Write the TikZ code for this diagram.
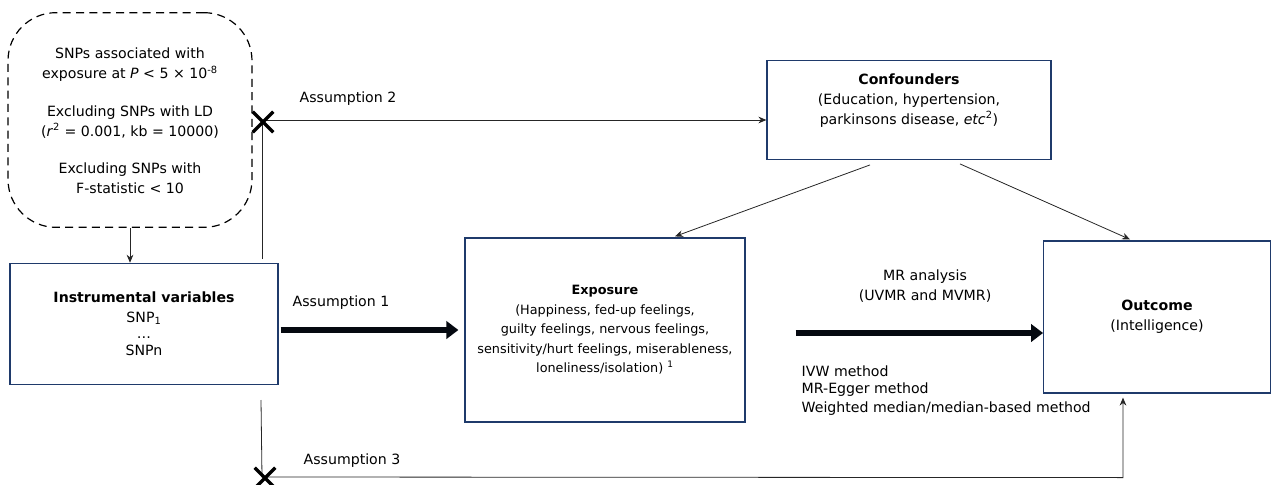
\documentclass[tikz,border=0pt]{standalone}
\usepackage{fontspec}
\setmainfont{DejaVu Sans}
\usetikzlibrary{arrows.meta,calc,shapes.misc}
\definecolor{boxblue}{HTML}{1F3A6B}

\begin{document}
\begin{tikzpicture}[x=.75pt,y=-.75pt,
    font=\fontsize{10.6}{15}\selectfont,
    box/.style={draw=boxblue,line width=.9pt,align=center,inner sep=0pt},
    link/.style={draw=black!85,line width=.6pt,-{Stealth[length=6pt,width=5pt]}},
    bigarrow/.style={draw=black!85!boxblue,line width=5pt,-{Triangle[length=9pt,width=13pt]}},
    xmark/.style={cross out,draw=black,line width=2.4pt,minimum size=13pt,inner sep=0pt}]
  \useasboundingbox (0,0) rectangle (1271,485);

  % boxes
  \node[box,draw=black,dashed,dash pattern=on 6pt off 4pt,rounded corners=36pt,
        minimum width=183pt,minimum height=161pt] (snps) at (130,120) {};
  \node[align=center] (snpstxt) at (130,121) {SNPs associated with\\
    exposure at \textit{P} < 5 × 10\textsuperscript{-8}\\[13pt]
    Excluding SNPs with LD\\
    (\textit{r}\textsuperscript{2} = 0.001, kb = 10000)\\[13pt]
    Excluding SNPs with\\
    F-statistic < 10};
  \node[box,minimum width=201pt,minimum height=91pt] (iv) at (144,324)
    {\textbf{Instrumental variables}\\SNP\textsubscript{1}\\[-3pt]…\\[-2pt]SNPn};
  \node[box,minimum width=210pt,minimum height=138pt,font=\fontsize{9.6}{14.6}\selectfont] (expo) at (605,330)
    {\textbf{Exposure}\\(Happiness, fed-up feelings,\\guilty feelings, nervous feelings,\\
     sensitivity/hurt feelings, miserableness,\\loneliness/isolation) \textsuperscript{1}};
  \node[box,minimum width=213pt,minimum height=74pt] (conf) at (909,110)
    {\textbf{Confounders}\\(Education, hypertension,\\parkinsons disease, \textit{etc}\textsuperscript{2})\\[2pt]};
  \node[box,minimum width=170pt,minimum height=114pt] (out) at (1157,317)
    {\textbf{Outcome}\\(Intelligence)};

  % labels
  \node (lab2) at (348,99) {Assumption 2};
  \node (lab1) at (341,303) {Assumption 1};
  \node (lab3) at (352,461) {Assumption 3};
  \node[align=center] (mr) at (925,286) {MR analysis\\(UVMR and MVMR)};
  \foreach \y/\lab in {371/{IVW method},390/{MR-Egger method},409/{Weighted median/median-based method}} {
    \node[anchor=west] (m\y) at (797,\y) {\lab};
  }

  % connectors
  \coordinate (a2) at (262,259);
  \coordinate (a3) at (261,400);
  \draw[link] (snps.south) -- (snps.south |- iv.north);
  \draw[link] (a2) |- ($(conf.west)+(0,10)$);
  \node[xmark] (x2) at (263,122) {};
  \draw[bigarrow] ($(iv.east)+(2,6)$) -- ($(expo.west)+(-6,0)$);
  \draw[bigarrow] ($(expo.east)+(50,3)$) -- ($(out.west)+(0,16)$);
  \draw[link] ($(conf.south)+(-39,5)$) -- ($(expo.north)+(70,-1)$);
  \draw[link] ($(conf.south)+(51,4)$) -- ($(out.north)+(-27,-1)$);
  \draw[link] (a3) -- (262,477) -- ($(out.south)+(-34,84)$) -- ($(out.south)+(-34,4)$);
  \node[xmark] (x3) at (265,478) {};
\end{tikzpicture}
\end{document}
